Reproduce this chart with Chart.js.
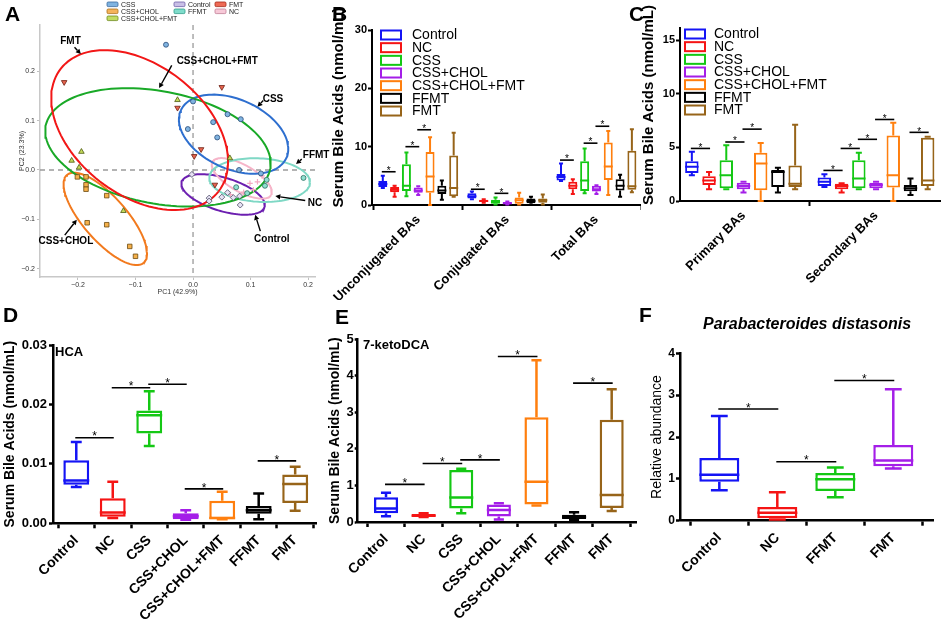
<!DOCTYPE html>
<html><head><meta charset="utf-8">
<script src="https://cdn.jsdelivr.net/npm/chart.js@4.4.1/dist/chart.umd.min.js"></script>
<style>
html,body{margin:0;padding:0;background:#fff}
body{width:941px;height:619px;position:relative;overflow:hidden;font-family:'Liberation Sans',Arial,sans-serif}
canvas{position:absolute}
.pl{position:absolute;font-weight:bold;font-size:21px;line-height:21px;color:#000;font-family:'Liberation Sans',Arial,sans-serif}
</style></head><body>
<canvas id="cA" width="336" height="300" style="left:0px;top:0px"></canvas>
<canvas id="cB" width="311" height="300" style="left:330px;top:0px"></canvas>
<canvas id="cC" width="311" height="300" style="left:630px;top:0px"></canvas>
<canvas id="cD" width="320" height="319" style="left:0px;top:300px"></canvas>
<canvas id="cE" width="320" height="319" style="left:320px;top:300px"></canvas>
<canvas id="cF" width="301" height="319" style="left:640px;top:300px"></canvas>
<div class="pl" style="left:5px;top:3px">A</div>
<div class="pl" style="left:332px;top:3px">B</div>
<div class="pl" style="left:629px;top:3px">C</div>
<div class="pl" style="left:3px;top:304px">D</div>
<div class="pl" style="left:335px;top:306px">E</div>
<div class="pl" style="left:639px;top:304px">F</div>
<script>
// ================= DATA =================
const groupNames = ['Control','NC','CSS','CSS+CHOL','CSS+CHOL+FMT','FFMT','FMT'];
const groupColors = ['#1414f5','#f51414','#14c814','#a41ee8','#ff7f0e','#000000','#976419'];

// ---- Panel A (PCA) ----
const pcaTickValues = [-0.2,-0.1,0,0.1,0.2];
const pcaTickLabels = ['\u22120.2','\u22120.1','0.0','0.1','0.2'];
const pcaCSS = [[-0.047,0.254],[0.0,0.139],[-0.009,0.083],[0.035,0.097],[0.042,0.066],[0.060,0.113],[0.083,0.103],[0.080,0.0],[0.118,-0.007]];
const pcaCSSCHOL = [[-0.201,-0.014],[-0.186,-0.014],[-0.186,-0.030],[-0.186,-0.039],[-0.150,-0.052],[-0.184,-0.107],[-0.150,-0.111],[-0.110,-0.155],[-0.100,-0.175]];
const pcaCSSCHOLFMT = [[-0.027,0.142],[-0.194,0.037],[-0.211,0.019],[-0.198,0.005],[-0.121,-0.083],[0.064,0.024]];
const pcaControl = [[-0.002,-0.009],[0.028,-0.057],[0.028,-0.063],[0.050,-0.055],[0.060,-0.046],[0.070,-0.056],[0.082,-0.071],[0.081,-0.053]];
const pcaFFMT = [[0.192,-0.016],[0.125,-0.032],[0.075,-0.035],[0.128,-0.020],[0.094,-0.047]];
const pcaFMT = [[-0.224,0.178],[0.050,0.168],[-0.027,0.126],[0.014,0.042],[0.002,0.028],[0.038,-0.030]];
const pcaNC = [[0.099,-0.027],[0.112,-0.024],[0.105,-0.040],[0.088,-0.045],[0.120,-0.012],[0.065,-0.050]];
// ellipses: [centerX, centerY, semiAxis1 dx, dy, semiAxis2 dx, dy]
const ellFMT = [-0.0928, 0.0809, 0.1370, -0.1246, -0.0696, -0.1037];
const ellCSSCHOLFMT = [-0.0609, 0.0459, 0.1951, -0.0437, -0.0185, -0.1118];
const ellCSS = [0.0705, 0.0726, 0.0917, -0.0483, -0.0249, -0.0641];
const ellFFMT = [0.1158, -0.0205, 0.0875, -0.0054, -0.0017, -0.0440];
const ellNC = [0.0848, -0.0170, 0.0509, -0.0337, -0.0115, -0.0235];
const ellControl = [0.0523, -0.0496, 0.0721, -0.0254, -0.0084, -0.0323];
const ellCSSCHOL = [-0.1525, -0.0992, 0.0666, -0.0891, -0.0287, -0.0290];

// ---- Panel B ---- five-number summaries [min, q1, median, q3, max] per group
const bCategories = ['Unconjugated BAs','Conjugated BAs','Total BAs'];
const bUnconjugated = [[2.9,3.1,3.6,4.1,5.0],[1.4,2.2,2.6,3.1,3.3],[1.5,2.4,3.3,7.0,9.0],[1.7,2.1,2.5,3.0,3.2],[0,2.1,4.9,9.1,11.6],[0.9,1.9,2.5,3.3,4.2],[1.4,1.5,2.9,8.5,12.4]];
const bConjugated = [[1.0,1.1,1.5,2.0,2.3],[0.4,0.5,0.7,0.9,1.0],[0.1,0.2,0.5,0.9,1.3],[0.1,0.15,0.3,0.5,0.6],[0.1,0.2,0.8,1.3,2.1],[0.1,0.3,0.7,1.1,1.4],[0.1,0.4,0.8,1.1,1.8]];
const bTotal = [[4.1,4.2,4.8,5.3,7.1],[1.9,2.7,3.3,4.0,4.4],[2.0,2.4,4.2,7.5,9.7],[1.9,2.3,2.7,3.3,3.4],[1.7,4.3,6.6,10.7,12.7],[1.4,2.5,3.3,4.4,5.2],[2.2,2.6,3.2,9.3,13.0]];
const bTicks = [0,10,20,30];
// significance: [category, groupA, groupB, y]
const bSig = [[0,0,1,5.7],[0,2,3,10.0],[0,3,4,12.9],[1,0,1,2.7],[1,2,3,2.0],[2,0,1,7.7],[2,2,3,10.6],[2,3,4,13.5]];

// ---- Panel C ----
const cCategories = ['Primary BAs','Secondary BAs'];
const cPrimary = [[2.4,2.6,3.2,3.7,4.6],[1.1,1.5,1.9,2.3,2.7],[1.1,1.2,2.4,3.8,5.2],[0.8,1.1,1.4,1.7,1.8],[0,1.0,3.5,4.5,5.4],[0.8,1.3,2.7,2.9,3.1],[1.1,1.3,1.6,3.3,7.1]];
const cSecondary = [[1.3,1.4,1.8,2.2,2.5],[0.8,1.1,1.4,1.6,1.65],[1.1,1.2,2.1,3.8,4.5],[1.1,1.2,1.5,1.7,1.8],[0,1.25,2.4,6.1,7.3],[0.55,0.9,1.2,1.5,2.1],[1.1,1.4,1.9,5.9,6.0]];
const cTicks = [0,5,10,15];
const cSig = [[0,0,1,4.9],[0,2,3,5.5],[0,3,4,6.7],[1,0,1,2.85],[1,1,2,4.9],[1,2,3,5.75],[1,3,4,7.6],[1,5,6,6.4]];

// ---- Panel D (HCA) ----
const dHCA = [[0.0061,0.0065,0.0072,0.0106,0.0137],[0.0009,0.0011,0.0018,0.0042,0.0070],[0.0130,0.0151,0.0182,0.0190,0.0222],[0.0006,0.0007,0.0012,0.0017,0.0022],[0.0007,0.0007,0.0009,0.0038,0.0053],[0.0007,0.0016,0.0022,0.0029,0.0050],[0.0021,0.0034,0.0066,0.0082,0.0095]];
const dTicks = [0,0.01,0.02,0.03];
const dTickLabels = ['0.00','0.01','0.02','0.03'];
const dSig = [[0,1,0.0144],[1,2,0.0228],[2,3,0.0234],[3,4,0.0058],[5,6,0.0105]];

// ---- Panel E (7-ketoDCA) ----
const eKetoDCA = [[0.16,0.24,0.37,0.68,0.80],[0.14,0.15,0.17,0.22,0.24],[0.24,0.37,0.67,1.42,1.46],[0.07,0.15,0.33,0.48,0.51],[0.45,0.48,1.10,2.87,4.43],[0.05,0.08,0.14,0.20,0.27],[0.30,0.38,0.74,2.80,3.63]];
const eTicks = [0,1,2,3,4,5];
const eSig = [[0,1,1.03],[1,2,1.6],[2,3,1.7],[3,4,4.53],[5,6,3.8]];

// ---- Panel F (Parabacteroides distasonis) ----
const fGroups = ['Control','NC','FFMT','FMT'];
const fColors = ['#1414f5','#f51414','#14c814','#a41ee8'];
const fAbundance = [[0.73,0.93,1.10,1.50,2.50],[0.03,0.06,0.19,0.33,0.68],[0.56,0.71,0.99,1.14,1.27],[1.25,1.30,1.44,1.81,3.14]];
const fTicks = [0,1,2,3,4];
const fSig = [[0,1,2.67],[1,2,1.41],[2,3,3.35]];

// ================= HELPERS =================
const FF = "'Liberation Sans', Arial, sans-serif";
Chart.defaults.font.family = FF;
Chart.defaults.color = '#000';
Chart.defaults.animation = false;

function textPlugin(items){
  return {id:'txt', afterDraw(chart){
    const ctx = chart.ctx;
    items.forEach(it => {
      ctx.save(); ctx.font = it.font; ctx.fillStyle = it.color || '#000';
      ctx.textAlign = it.align || 'center'; ctx.textBaseline = 'middle';
      ctx.translate(it.x, it.y); if (it.rot) ctx.rotate(it.rot*Math.PI/180);
      ctx.fillText(it.t, 0, 0); ctx.restore();
    });
  }};
}
function boxPlugin(capRatio){
  return {id:'boxp', afterDatasetsDraw(chart){
    const ctx = chart.ctx, ys = chart.scales.y;
    chart.data.datasets.forEach((ds, di) => {
      if (!ds.stats) return;
      const meta = chart.getDatasetMeta(di);
      meta.data.forEach((bar, i) => {
        const s = ds.stats[i];
        const col = Array.isArray(ds.borderColor) ? ds.borderColor[i] : ds.borderColor;
        const x = bar.x, w = bar.width, cw = w*capRatio/2;
        const p = s.map(v => ys.getPixelForValue(v));
        ctx.save(); ctx.strokeStyle = col; ctx.lineWidth = ds.borderWidth; ctx.lineCap = 'butt';
        ctx.beginPath();
        ctx.moveTo(x, p[3]); ctx.lineTo(x, p[4]);
        ctx.moveTo(x, p[1]); ctx.lineTo(x, p[0]);
        ctx.moveTo(x-cw, p[4]); ctx.lineTo(x+cw, p[4]);
        ctx.moveTo(x-cw, p[0]); ctx.lineTo(x+cw, p[0]);
        ctx.moveTo(x-w/2, p[2]); ctx.lineTo(x+w/2, p[2]);
        ctx.stroke(); ctx.restore();
      });
    });
  }};
}
function sigPlugin(items, grouped, font, dy){
  return {id:'sig', afterDatasetsDraw(chart){
    const ctx = chart.ctx, ys = chart.scales.y;
    items.forEach(it => {
      let x1, x2, v;
      if (grouped) { x1 = chart.getDatasetMeta(it[1]).data[it[0]].x; x2 = chart.getDatasetMeta(it[2]).data[it[0]].x; v = it[3]; }
      else { const m = chart.getDatasetMeta(0).data; x1 = m[it[0]].x; x2 = m[it[1]].x; v = it[2]; }
      const py = ys.getPixelForValue(v);
      ctx.save(); ctx.strokeStyle = '#000'; ctx.lineWidth = 1.6;
      ctx.beginPath(); ctx.moveTo(x1-1, py); ctx.lineTo(x2+1, py); ctx.stroke();
      ctx.fillStyle = '#000'; ctx.font = font; ctx.textAlign = 'center'; ctx.textBaseline = 'alphabetic';
      ctx.fillText('*', (x1+x2)/2, py+dy); ctx.restore();
    });
  }};
}
function legendPlugin(dx, dy0, dy, tx){
  return {id:'leg', afterDraw(chart){
    const ctx = chart.ctx, a = chart.chartArea;
    chart.data.datasets.forEach((ds, i) => {
      const yc = a.top + dy0 + i*dy;
      ctx.save(); ctx.lineWidth = 2; ctx.strokeStyle = ds.borderColor; ctx.fillStyle = '#fff';
      ctx.fillRect(a.left+dx, yc-4.5, 20, 9); ctx.strokeRect(a.left+dx, yc-4.5, 20, 9);
      ctx.fillStyle = '#000'; ctx.font = '14px ' + FF; ctx.textAlign = 'left'; ctx.textBaseline = 'middle';
      ctx.fillText(ds.label, a.left+tx, yc+0.5); ctx.restore();
    });
  }};
}
function boxStatsDataset(label, color, stats, positions, lw, catPct, barPct){
  return {label: label, stats: stats,
    data: stats.map((s, i) => ({x: positions[i], y: [s[1], s[3]]})),
    backgroundColor: '#ffffff', borderColor: color, borderWidth: lw, borderSkipped: false,
    categoryPercentage: catPct, barPercentage: barPct};
}
function boxChart(id, c){
  return new Chart(document.getElementById(id), {
    type: 'bar',
    data: {datasets: c.datasets},
    options: {
      responsive: false, animation: false,
      layout: {padding: c.padding},
      plugins: {legend: {display: false}, tooltip: {enabled: false}, title: {display: false}},
      scales: {
        x: {type: 'linear', min: c.xMin, max: c.xMax, offset: false,
          afterBuildTicks: s => { s.ticks = c.xPos.map(v => ({value: v})); },
          ticks: {autoSkip: false, maxRotation: 45, minRotation: 45, font: {size: c.xFont, weight: 'bold'}, color: '#000', padding: c.xPad,
            callback: (v, i) => c.xLabels[i]},
          grid: {drawOnChartArea: false, drawTicks: true, tickLength: c.xTick, tickWidth: c.axisW, tickColor: '#000'},
          border: {color: '#000', width: c.axisW},
          afterFit: s => { s.height = c.xH; s.paddingLeft = 0; s.paddingRight = 0; }},
        y: {min: c.yMin, max: c.yMax,
          afterBuildTicks: s => { s.ticks = c.yTicks.map(v => ({value: v})); },
          ticks: {font: {size: c.yFont, weight: 'bold'}, color: '#000', padding: c.yPad, maxRotation: 0,
            callback: (v, i) => c.yLabels[i]},
          grid: {drawOnChartArea: false, drawTicks: true, tickLength: c.yTick, tickWidth: c.axisW, tickColor: '#000'},
          border: {color: '#000', width: c.axisW},
          title: c.yTitle ? {display: true, text: c.yTitle, font: c.yTitleFont, color: '#000', padding: {top: c.yTitlePad, bottom: 0}} : {display: false},
          afterFit: s => { s.width = c.yW; s.paddingTop = 0; s.paddingBottom = 0; }}
      }
    },
    plugins: c.plugins
  });
}

// ================= PANEL A =================
function ellipsePoints(e){
  const out = [];
  for (let k = 0; k <= 120; k++) { const t = k/120*2*Math.PI;
    out.push({x: e[0] + e[2]*Math.cos(t) + e[4]*Math.sin(t), y: e[1] + e[3]*Math.cos(t) + e[5]*Math.sin(t)}); }
  return out;
}
const toXY = arr => arr.map(p => ({x: p[0], y: p[1]}));
function ellDs(e, color){ return {type: 'line', data: ellipsePoints(e), showLine: true, pointRadius: 0, borderColor: color, borderWidth: 2, fill: false, tension: 0, order: 2}; }
function ptDs(pts, style, fill, stroke, r, rot){ return {data: toXY(pts), pointStyle: style, pointRadius: r, pointRotation: rot || 0, backgroundColor: fill, borderColor: stroke, pointBorderWidth: 0.8, borderWidth: 0.8, showLine: false, order: 1}; }

const pcaNotes = [
  {t: 'FMT', tx: -0.213, ty: 0.261, a: [-0.206, 0.249, -0.195, 0.235]},
  {t: 'CSS+CHOL+FMT', tx: 0.042, ty: 0.221, a: [-0.037, 0.212, -0.059, 0.166]},
  {t: 'CSS', tx: 0.139, ty: 0.144, a: [0.122, 0.141, 0.112, 0.128]},
  {t: 'FFMT', tx: 0.214, ty: 0.029, a: [0.189, 0.022, 0.179, 0.012]},
  {t: 'NC', tx: 0.212, ty: -0.067, a: [0.195, -0.062, 0.143, -0.053]},
  {t: 'Control', tx: 0.137, ty: -0.140, a: [0.117, -0.124, 0.108, -0.091]},
  {t: 'CSS+CHOL', tx: -0.221, ty: -0.145, a: [-0.223, -0.132, -0.202, -0.101]}
];
const pcaLegend = [
  ['CSS', '#7fb3e0', '#3b6a9e', 107, 4.3], ['CSS+CHOL', '#f5b35a', '#a8701c', 107, 11.3], ['CSS+CHOL+FMT', '#c2dc62', '#6f8a1f', 107, 18.3],
  ['Control', '#c9bfe6', '#6f5fa8', 174, 4.3], ['FFMT', '#7fdccb', '#2f9c88', 174, 11.3],
  ['FMT', '#ee6a55', '#a3291b', 215, 4.3], ['NC', '#f7c9d8', '#c07d95', 215, 11.3]
];
const pcaExtras = {id: 'pcaExtras',
  beforeDatasetsDraw(chart){
    const ctx = chart.ctx, a = chart.chartArea, xs = chart.scales.x, ys = chart.scales.y;
    ctx.save(); ctx.strokeStyle = '#9a9a9a'; ctx.lineWidth = 1.3; ctx.setLineDash([5, 4]);
    ctx.beginPath();
    ctx.moveTo(xs.getPixelForValue(0), a.top); ctx.lineTo(xs.getPixelForValue(0), a.bottom);
    ctx.moveTo(a.left, ys.getPixelForValue(0)); ctx.lineTo(a.right, ys.getPixelForValue(0));
    ctx.stroke(); ctx.restore();
  },
  afterDraw(chart){
    const ctx = chart.ctx, xs = chart.scales.x, ys = chart.scales.y;
    pcaNotes.forEach(n => {
      const X = v => xs.getPixelForValue(v), Y = v => ys.getPixelForValue(v);
      const x1 = X(n.a[0]), y1 = Y(n.a[1]), x2 = X(n.a[2]), y2 = Y(n.a[3]);
      ctx.save(); ctx.strokeStyle = '#000'; ctx.fillStyle = '#000'; ctx.lineWidth = 1.4;
      const ang = Math.atan2(y2-y1, x2-x1), hl = 5, hw = 2.6;
      const bx = x2 - hl*Math.cos(ang), by = y2 - hl*Math.sin(ang);
      ctx.beginPath(); ctx.moveTo(x1, y1); ctx.lineTo(bx, by); ctx.stroke();
      ctx.beginPath(); ctx.moveTo(x2, y2);
      ctx.lineTo(bx + hw*Math.sin(ang), by - hw*Math.cos(ang));
      ctx.lineTo(bx - hw*Math.sin(ang), by + hw*Math.cos(ang)); ctx.closePath(); ctx.fill();
      ctx.font = 'bold 10px ' + FF; ctx.textAlign = 'center'; ctx.textBaseline = 'middle';
      ctx.fillText(n.t, X(n.tx), Y(n.ty)); ctx.restore();
    });
    pcaLegend.forEach(l => {
      ctx.save(); ctx.fillStyle = l[1]; ctx.strokeStyle = l[2]; ctx.lineWidth = 0.8;
      ctx.beginPath(); ctx.roundRect ? ctx.roundRect(l[3], l[4]-2.3, 11, 4.6, 1.2) : ctx.rect(l[3], l[4]-2.3, 11, 4.6);
      ctx.fill(); ctx.stroke();
      ctx.fillStyle = '#222'; ctx.font = '7px ' + FF; ctx.textAlign = 'left'; ctx.textBaseline = 'middle';
      ctx.fillText(l[0], l[3]+14, l[4]+0.3); ctx.restore();
    });
  }
};
new Chart(document.getElementById('cA'), {
  type: 'scatter',
  data: {datasets: [
    ptDs(pcaCSS, 'circle', '#7fb3e0', '#2b4d78', 2.5),
    ptDs(pcaCSSCHOL, 'rect', '#f5b04a', '#6b4a10', 3.2),
    ptDs(pcaCSSCHOLFMT, 'triangle', '#c3d95a', '#4d5a10', 3.2),
    ptDs(pcaControl, 'rectRot', '#e6e1f3', '#4d4d66', 3.0),
    ptDs(pcaFFMT, 'circle', '#8fe0d0', '#2b6b60', 2.5),
    ptDs(pcaFMT, 'triangle', '#e8654f', '#6b1d10', 3.2, 180),
    {data: toXY(pcaNC), pointStyle: 'cross', pointRadius: 2.8, borderColor: '#f4a9c2', backgroundColor: '#f4a9c2', pointBorderWidth: 1.2, showLine: false, order: 1},
    ellDs(ellFMT, '#f21717'),
    ellDs(ellCSSCHOLFMT, '#19a927'),
    ellDs(ellCSS, '#2e6fcf'),
    ellDs(ellFFMT, '#7fd8c5'),
    ellDs(ellNC, '#f6b5c9'),
    ellDs(ellControl, '#6c1fb0'),
    ellDs(ellCSSCHOL, '#f27a1e')
  ]},
  options: {
    responsive: false, animation: false,
    layout: {padding: {top: 25, right: 21, left: 0, bottom: 0}},
    plugins: {legend: {display: false}, tooltip: {enabled: false}},
    scales: {
      x: {type: 'linear', min: -0.266, max: 0.212,
        afterBuildTicks: s => { s.ticks = pcaTickValues.map(v => ({value: v})); },
        ticks: {font: {size: 7}, color: '#333', padding: 1, maxRotation: 0, callback: (v, i) => pcaTickLabels[i]},
        grid: {drawOnChartArea: false, tickLength: 3, tickColor: '#c0c0c0'},
        border: {color: '#c8c8c8', width: 1.5},
        title: {display: true, text: 'PC1 (42.9%)', font: {size: 7}, color: '#333', padding: {top: 0, bottom: 4}},
        afterFit: s => { s.height = 23; s.paddingLeft = 0; s.paddingRight = 0; }},
      y: {type: 'linear', min: -0.217, max: 0.294,
        afterBuildTicks: s => { s.ticks = pcaTickValues.map(v => ({value: v})); },
        ticks: {font: {size: 7}, color: '#333', padding: 2, callback: (v, i) => pcaTickLabels[i]},
        grid: {drawOnChartArea: false, tickLength: 3, tickColor: '#c0c0c0'},
        border: {color: '#c8c8c8', width: 1.5},
        title: {display: true, text: 'PC2 (23.3%)', font: {size: 7}, color: '#333', padding: {top: 18, bottom: 0}},
        afterFit: s => { s.width = 40; s.paddingTop = 0; s.paddingBottom = 0; }}
    }
  },
  plugins: [pcaExtras]
});

// ================= PANEL B =================
const bSets = [bUnconjugated, bConjugated, bTotal];
boxChart('cB', {
  datasets: groupNames.map((g, gi) => boxStatsDataset(g, groupColors[gi], bSets.map(s => s[gi]), [1,2,3], 2, 0.928, 0.76)),
  padding: {top: 30, right: 0, left: 0, bottom: 0},
  xMin: 0.481, xMax: 3.5, xPos: [1,2,3], xLabels: bCategories, xFont: 13, xPad: 2, xTick: 5, xH: 95,
  yMin: 0, yMax: 30, yTicks: bTicks, yLabels: bTicks.map(String), yFont: 11, yPad: 1, yTick: 4, yW: 42, axisW: 2,
  plugins: [boxPlugin(0.45), sigPlugin(bSig, true, '10px ' + FF, 2.2), legendPlugin(9, 5, 12.67, 40),
    textPlugin([{t: 'Serum Bile Acids (nmol/mL)', x: 9, y: 107.5, rot: -90, font: 'bold 15px ' + FF}])]
});

// ================= PANEL C =================
const cSets = [cPrimary, cSecondary];
boxChart('cC', {
  datasets: groupNames.map((g, gi) => boxStatsDataset(g, groupColors[gi], cSets.map(s => s[gi]), [1,2], 2, 0.909, 0.78)),
  padding: {top: 28.3, right: 0, left: 0, bottom: 0},
  xMin: 0.521, xMax: 2.49, xPos: [1,2], xLabels: cCategories, xFont: 13, xPad: 2, xTick: 5, xH: 99,
  yMin: 0, yMax: 16.1, yTicks: cTicks, yLabels: cTicks.map(String), yFont: 11, yPad: 1, yTick: 4, yW: 50, axisW: 2,
  plugins: [boxPlugin(0.45), sigPlugin(cSig, true, '10px ' + FF, 2.2), legendPlugin(5, 5.7, 12.67, 34),
    textPlugin([{t: 'Serum Bile Acids (nmol/mL)', x: 18.8, y: 105, rot: -90, font: 'bold 15px ' + FF}])]
});

// ================= PANEL D =================
boxChart('cD', {
  datasets: [boxStatsDataset('HCA', groupColors, dHCA, [1,2,3,4,5,6,7], 2.5, 1, 0.71)],
  padding: {top: 45, right: 3.3, left: 0, bottom: 0},
  xMin: 0.362, xMax: 7.59, xPos: [1,2,3,4,5,6,7], xLabels: groupNames, xFont: 14, xPad: 4, xTick: 5, xH: 95.7,
  yMin: 0, yMax: 0.03, yTicks: dTicks, yLabels: dTickLabels, yFont: 13, yPad: 2, yTick: 4, yW: 53, axisW: 2.5,
  yTitle: 'Serum Bile Acids (nmol/mL)', yTitleFont: {size: 14, weight: 'bold'}, yTitlePad: 2,
  plugins: [boxPlugin(0.42), sigPlugin(dSig, false, '12px ' + FF, 2.7),
    textPlugin([{t: 'HCA', x: 55, y: 52, align: 'left', font: 'bold 13px ' + FF}])]
});

// ================= PANEL E =================
boxChart('cE', {
  datasets: [boxStatsDataset('7-ketoDCA', groupColors, eKetoDCA, [1,2,3,4,5,6,7], 2.5, 1, 0.64)],
  padding: {top: 39.3, right: 3.3, left: 0, bottom: 0},
  xMin: 0.247, xMax: 7.665, xPos: [1,2,3,4,5,6,7], xLabels: groupNames, xFont: 14, xPad: 4, xTick: 5, xH: 97,
  yMin: 0, yMax: 5, yTicks: eTicks, yLabels: eTicks.map(String), yFont: 13, yPad: 1, yTick: 3, yW: 37.7, axisW: 2.5,
  yTitle: 'Serum Bile Acids (nmol/mL)', yTitleFont: {size: 14, weight: 'bold'}, yTitlePad: 7,
  plugins: [boxPlugin(0.42), sigPlugin(eSig, false, '12px ' + FF, 2.7),
    textPlugin([{t: '7-ketoDCA', x: 43, y: 45, align: 'left', font: 'bold 13px ' + FF}])]
});

// ================= PANEL F =================
boxChart('cF', {
  datasets: [boxStatsDataset('Parabacteroides distasonis', fColors, fAbundance, [1,2,3,4], 2.5, 1, 0.69)],
  padding: {top: 53.3, right: 7.7, left: 0, bottom: 0},
  xMin: 0.322, xMax: 4.69, xPos: [1,2,3,4], xLabels: fGroups, xFont: 14, xPad: 4, xTick: 5, xH: 98.3,
  yMin: 0, yMax: 4, yTicks: fTicks, yLabels: fTicks.map(String), yFont: 12, yPad: 1, yTick: 4, yW: 40, axisW: 2.5,
  yTitle: 'Relative abundance', yTitleFont: {size: 14, weight: 'normal'}, yTitlePad: 8.3,
  plugins: [boxPlugin(0.42), sigPlugin(fSig, false, '12px ' + FF, 2.7),
    textPlugin([{t: 'Parabacteroides distasonis', x: 167, y: 25, font: 'italic bold 16px ' + FF}])]
});
</script>
</body></html>
